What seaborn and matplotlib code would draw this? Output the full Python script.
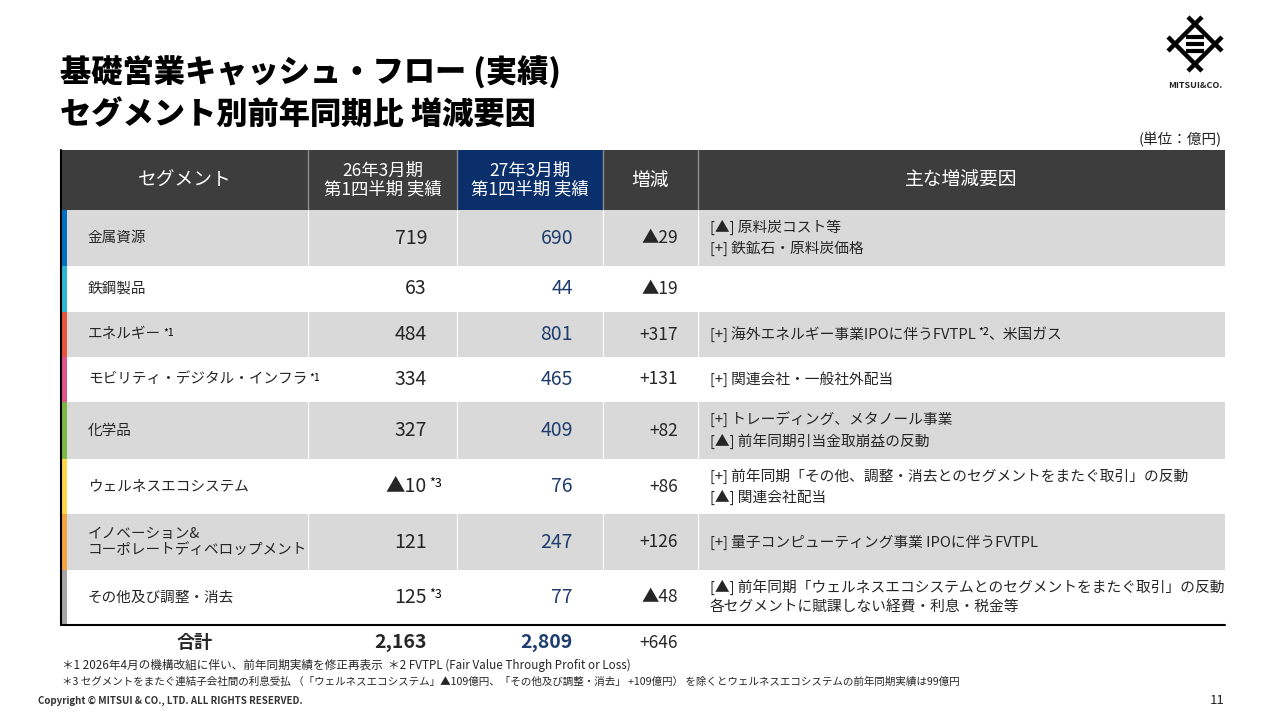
import numpy as np
import seaborn as sns
import matplotlib.pyplot as plt

# data
segments = ["金属資源", "鉄鋼製品", "エネルギー", "モビリティ・デジタル・インフラ", "化学品",
            "ウェルネスエコシステム", "イノベーション&\nコーポレートディベロップメント", "その他及び調整・消去"]
segment_notes = ["", "", "*1", "*1", "", "", "", ""]
prev_q1 = ["719", "63", "484", "334", "327", "▲10", "121", "125"]
prev_notes = ["", "", "", "", "", "*3", "", "*3"]
curr_q1 = ["690", "44", "801", "465", "409", "76", "247", "77"]
change = ["▲29", "▲19", "+317", "+131", "+82", "+86", "+126", "▲48"]
reasons = [
    ["[▲] 原料炭コスト等", "[+] 鉄鉱石・原料炭価格"],
    [],
    ["[+] 海外エネルギー事業IPOに伴うFVTPL|*2|、米国ガス"],
    ["[+] 関連会社・一般社外配当"],
    ["[+] トレーディング、メタノール事業", "[▲] 前年同期引当金取崩益の反動"],
    ["[+] 前年同期「その他、調整・消去とのセグメントをまたぐ取引」の反動", "[▲] 関連会社配当"],
    ["[+] 量子コンピューティング事業 IPOに伴うFVTPL"],
    ["[▲] 前年同期「ウェルネスエコシステムとのセグメントをまたぐ取引」の反動", "各セグメントに賦課しない経費・利息・税金等"],
]
strip_colors = ["#0070c0", "#2db7d3", "#e8553f", "#e0548c", "#7cb844", "#ffd84a", "#f4a541", "#a6a6a6"]
total_label = "合計"
total_prev = "2,163"
total_curr = "2,809"
total_change = "+646"
headers = ["セグメント", "26年3月期\n第1四半期 実績", "27年3月期\n第1四半期 実績", "増減", "主な増減要因"]
footnotes = [
    "＊1 2026年4月の機構改組に伴い、前年同期実績を修正再表示  ＊2 FVTPL (Fair Value Through Profit or Loss)",
    "＊3 セグメントをまたぐ連結子会社間の利息受払 （「ウェルネスエコシステム」▲109億円、「その他及び調整・消去」 +109億円） を除くとウェルネスエコシステムの前年同期実績は99億円",
]

sns.set_theme(style="white")
plt.rcParams['font.family'] = ['Noto Sans CJK JP', 'DejaVu Sans']

NAVY = "#1f3e6e"
HEAD = "#3d3d3d"
GRAY = "#d9d9d9"

fig = plt.figure(figsize=(12.8, 7.2), dpi=100)
ax = fig.add_axes([0, 0, 1, 1])
ax.set_xlim(0, 1280)
ax.set_ylim(720, 0)
ax.axis("off")

# layout
col_edges = [62, 308, 457, 603, 698, 1225]
head_top, head_bot = 150, 210
row_edges = np.array([210, 266, 312, 357, 402, 459, 514, 570, 625])
row_mid = (row_edges[:-1] + row_edges[1:]) / 2
row_h = np.diff(row_edges)

# title
ax.text(60, 72, "基礎営業キャッシュ・フロー (実績)", fontsize=22.5, fontweight="heavy", va="center", color="black")
ax.text(60, 114, "セグメント別前年同期比 増減要因", fontsize=22.5, fontweight="heavy", va="center", color="black")
ax.text(1222, 140, "(単位：億円)", fontsize=10.5, ha="right", va="center", color="#222222")

# logo
cx, cy, r, ext = 1195, 44, 20, 7
for (x0, y0), (x1, y1) in [((cx, cy - r), (cx + r, cy)), ((cx + r, cy), (cx, cy + r)),
                           ((cx, cy + r), (cx - r, cy)), ((cx - r, cy), (cx, cy - r))]:
    dx, dy = (x1 - x0) / r, (y1 - y0) / r
    ax.plot([x0 - dx * ext, x1 + dx * ext], [y0 - dy * ext, y1 + dy * ext], color="black", lw=3.2,
            solid_capstyle="butt")
for yy in [cy - 7, cy, cy + 7]:
    ax.plot([cx - 9, cx + 9], [yy, yy], color="black", lw=3.0, solid_capstyle="butt")
ax.text(cx, 86, "MITSUI&CO.", fontsize=6.5, fontweight="bold", ha="center", va="center", color="#222222")

# header
for i in range(5):
    color = "#0a2f6b" if i == 2 else HEAD
    ax.barh(head_top + (head_bot - head_top) / 2, col_edges[i + 1] - col_edges[i], height=head_bot - head_top,
            left=col_edges[i], color=color, edgecolor="none")
    ax.text((col_edges[i] + col_edges[i + 1]) / 2, (head_top + head_bot) / 2, headers[i], color="white",
            fontsize=13.5 if "\n" not in headers[i] else 12.5, ha="center", va="center", linespacing=1.0)
for x in col_edges[1:-1]:
    ax.plot([x, x], [head_top, head_bot], color="#8c8c8c", lw=1)

# body rows
ax.barh(row_mid, col_edges[-1] - col_edges[0], height=row_h, left=col_edges[0],
        color=[GRAY if i % 2 == 0 else "white" for i in range(len(segments))], edgecolor="none")
ax.barh(row_mid, 5, height=row_h, left=col_edges[0], color=strip_colors, edgecolor="none")
for x in col_edges[1:-1]:
    ax.plot([x, x], [row_edges[0], row_edges[-1]], color="white", lw=0.8)
ax.plot([61, 61], [head_top, row_edges[-1]], color="black", lw=1.5)
ax.plot([61, col_edges[-1]], [row_edges[-1], row_edges[-1]], color="black", lw=1.5)


def sup(artist, s, size=7.5, color="black", gap=1.5):
    return ax.annotate(s, xy=(1, 0.95), xycoords=artist, xytext=(gap, 0), textcoords="offset points",
                       fontsize=size, va="top", ha="left", color=color)


for i, y in enumerate(row_mid):
    t = ax.text(88, y, segments[i], fontsize=10.5, va="center", ha="left", linespacing=1.15)
    if segment_notes[i]:
        sup(t, segment_notes[i], size=7.5)
    t = ax.text(427, y, prev_q1[i], fontsize=14, va="center", ha="right")
    if prev_notes[i]:
        sup(t, prev_notes[i], size=9)
    ax.text(573, y, curr_q1[i], fontsize=14, va="center", ha="right", color=NAVY)
    ax.text(678, y, change[i], fontsize=12.5, va="center", ha="right")
    lines = reasons[i]
    n = len(lines)
    for k, line in enumerate(lines):
        ly = y + (k - (n - 1) / 2) * 21
        parts = line.split("|")
        t = ax.text(710, ly, parts[0], fontsize=10.6, va="center", ha="left")
        if len(parts) == 3:
            sup(t, parts[1], size=7.5)
            ax.annotate(parts[2], xy=(1, 0.5), xycoords=t, xytext=(9, 0), textcoords="offset points",
                        fontsize=10.6, va="center", ha="left")

# total
ty = 643
ax.text(195, ty, total_label, fontsize=13, fontweight="bold", ha="center", va="center")
ax.text(427, ty, total_prev, fontsize=14, fontweight="bold", ha="right", va="center")
ax.text(573, ty, total_curr, fontsize=14, fontweight="bold", ha="right", va="center", color=NAVY)
ax.text(678, ty, total_change, fontsize=12.5, ha="right", va="center")

# footnotes
ax.text(62, 665, footnotes[0], fontsize=8.4, ha="left", va="center")
ax.text(62, 682, footnotes[1], fontsize=7.6, ha="left", va="center")
ax.text(38, 701, "Copyright © MITSUI & CO., LTD. ALL RIGHTS RESERVED.", fontsize=7, ha="left", va="center",
        color="#333333", fontweight="bold")
ax.text(1225, 700, "11", fontsize=9.5, ha="right", va="center")

fig.savefig("out.png", dpi=100)
